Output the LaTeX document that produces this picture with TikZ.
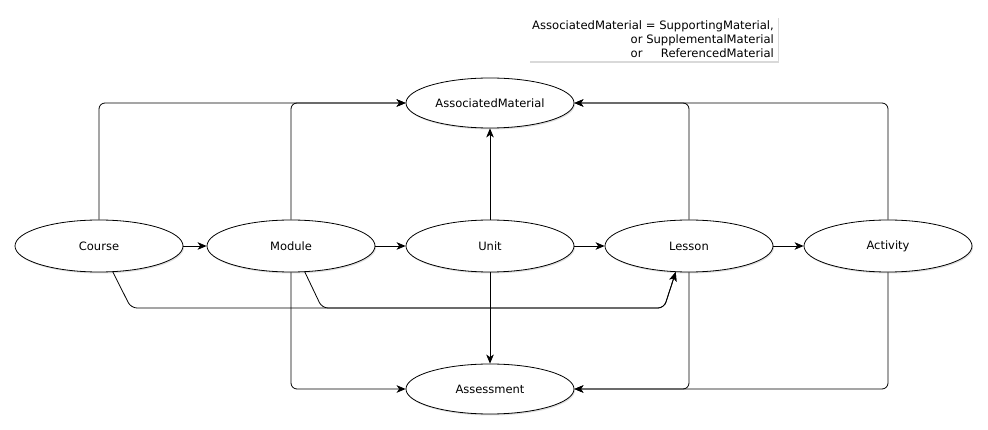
\documentclass[tikz,border=0pt]{standalone}
\usepackage{fontspec}
\setmainfont{DejaVu Sans}
\usepackage{calc}
\usepackage{tikz}
\usetikzlibrary{
    arrows,
    arrows.meta,
    shapes,
    shadows,
    calc,
    positioning
}
\tikzset{unitnode/.style={ellipse, draw=black, fill=white, line width=0.8pt, minimum width=168pt, minimum height=52pt, inner sep=0pt, font=\fontsize{11.5}{13}\selectfont, drop shadow={opacity=0.25, shadow xshift=1pt, shadow yshift=-1.5pt}}}
\tikzset{link/.style={line width=0.8pt, rounded corners=6pt, -{Stealth[length=9pt, width=7.5pt, inset=2.5pt]}}}

\begin{document}
\begin{tikzpicture}[x=1pt, y=-1pt]
                        \useasboundingbox (0, 0) rectangle (988, 430);
                        \node[unitnode] (course) at (99, 246) {Course};
                        \node[unitnode] (module) at (291, 246) {Module};
                        \node[unitnode] (unit) at (490, 246) {Unit};
                        \node[unitnode] (lesson) at (689, 246) {Lesson};
                        \node[unitnode] (activity) at (888, 246) {Activity};
                        \node[unitnode, minimum height=50pt] (assoc) at (490, 103) {AssociatedMaterial};
                        \node[unitnode, minimum height=50pt] (assess) at (490, 389) {Assessment};
                        \node[fill=white, align=right, inner sep=4pt, font=\fontsize{11.6}{14}\selectfont, drop shadow={opacity=0.3, shadow xshift=1.5pt, shadow yshift=-1.5pt}] (note) at (653, 39)
                            {AssociatedMaterial = SupportingMaterial,\\ or SupplementalMaterial\\ or \makebox[\widthof{SupplementalMaterial}][r]{ReferencedMaterial}};

                        \draw[link]
                        (course) edge (module)
                        (module) edge (unit)
                        (unit) edge (lesson)
                        (lesson) edge (activity)
                        (unit) edge (assoc)
                        (unit) edge (assess);
                        \draw[link] (course.north) |- (assoc.west);
                        \draw[link] (module.north) |- (assoc.west);
                        \draw[link] (lesson.north) |- (assoc.east);
                        \draw[link] (activity.north) |- (assoc.east);
                        \draw[link] (module.south) |- (assess.west);
                        \draw[link] (lesson.south) |- (assess.east);
                        \draw[link] (activity.south) |- (assess.east);
                        \draw[link] (course.-62) -- (131, 308) -- (664, 308) -- (lesson.-117);
                        \draw[link] (module.-62) -- (322, 308) -- (664, 308) -- (lesson.-117);
                    \end{tikzpicture}
\end{document}
